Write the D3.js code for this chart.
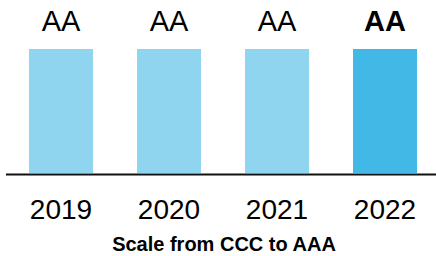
<!DOCTYPE html>
<html>
<head>
<meta charset="utf-8">
<script src="https://cdn.jsdelivr.net/npm/d3@7"></script>
<style>
	body { margin: 0; padding: 0; background: #fff; }
	svg { display: block; }
	text { font-family: "Liberation Sans", Arial, sans-serif; fill: #000; }
</style>
</head>
<body>
<div id="chart"></div>
<script>
	'use strict';

	var years = ['2019', '2020', '2021', '2022'];
	var ratings = ['AA', 'AA', 'AA', 'AA'];
	var scaleSteps = ['CCC', 'B', 'BB', 'BBB', 'A', 'AA', 'AAA'];
	var caption = 'Scale from CCC to AAA';

	var width = 436,
			height = 256,
			base = 173;

	var svg = d3.select('#chart').append('svg')
							.attr('width', width)
							.attr('height', height);

	var x = d3.scaleBand()
						.domain(years)
						.range([7, 439])
						.paddingInner(44 / 108)
						.paddingOuter(22 / 108);

	// rating position on the CCC..AAA scale, AA sits at 6 of 7
	var y = d3.scaleLinear()
						.domain([0, scaleSteps.length])
						.range([base, base - 124 * 7 / 6]);

	function rank (r)	{
		return scaleSteps.indexOf(r) + 1;
	};

	var data = years.map(function (yr, i)	{
		return { year: yr, rating: ratings[i], last: i === years.length - 1 };
	});

	svg.selectAll('rect.bar')
		 .data(data)
		 .enter().append('rect')
		 .attr('class', 'bar')
		 .attr('x', function (d) { return x(d.year); })
		 .attr('y', function (d) { return y(rank(d.rating)); })
		 .attr('width', x.bandwidth())
		 .attr('height', function (d) { return base - y(rank(d.rating)); })
		 .style('fill', function (d) { return d.last ? '#41b8e5' : '#8fd5f0'; });

	svg.selectAll('text.rating')
		 .data(data)
		 .enter().append('text')
		 .attr('class', 'rating')
		 .attr('x', function (d) { return x(d.year) + x.bandwidth() / 2; })
		 .attr('y', 31)
		 .attr('text-anchor', 'middle')
		 .style('font-size', '29px')
		 .style('font-weight', function (d) { return d.last ? 'bold' : 'normal'; })
		 .text(function (d) { return d.rating; });

	svg.append('line')
		 .attr('x1', 6)
		 .attr('x2', width)
		 .attr('y1', 174.5)
		 .attr('y2', 174.5)
		 .style('stroke', '#111')
		 .style('stroke-width', 2);

	svg.selectAll('text.year')
		 .data(data)
		 .enter().append('text')
		 .attr('class', 'year')
		 .attr('x', function (d) { return x(d.year) + x.bandwidth() / 2; })
		 .attr('y', 219)
		 .attr('text-anchor', 'middle')
		 .style('font-size', '28px')
		 .text(function (d) { return d.year; });

	svg.append('text')
		 .attr('x', 224)
		 .attr('y', 251)
		 .attr('text-anchor', 'middle')
		 .style('font-size', '20px')
		 .style('font-weight', 'bold')
		 .text(caption);
</script>
</body>
</html>
